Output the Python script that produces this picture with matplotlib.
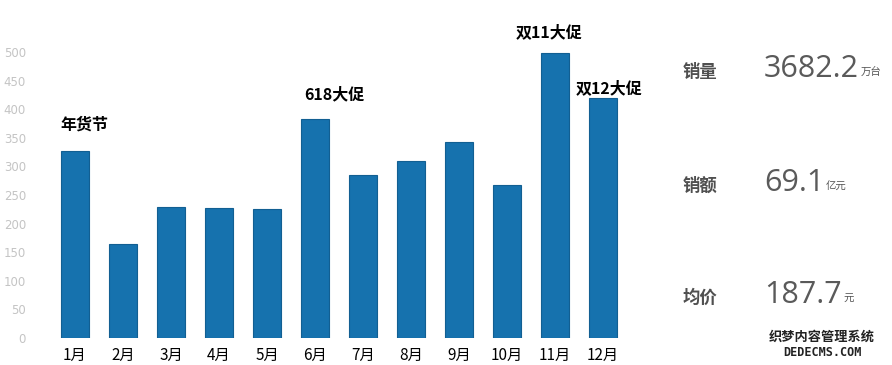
import matplotlib.pyplot as plt
import numpy as np

plt.rcParams['font.family'] = ['Noto Sans CJK SC', 'DejaVu Sans']

# monthly sales (万台)
months = ['1月', '2月', '3月', '4月', '5月', '6月',
          '7月', '8月', '9月', '10月', '11月', '12月']
sales = [327, 164, 229, 227, 225, 383, 285, 309, 343, 267, 498, 420]

# promo labels: (month index, text)
promo_idx = [0, 5, 10, 11]
promo_txt = ['年货节', '618大促', '双11大促', '双12大促']

# summary panel
sum_names = ['销量', '销额', '均价']
sum_vals = ['3682.2', '69.1', '187.7']
sum_units = ['万台', '亿元', '元']

yticks = np.arange(0, 501, 50)

W, H = 892, 365


def px(x, y):
    return x / W, 1 - y / H


fig = plt.figure(figsize=(W / 100, H / 100), dpi=100)
ax = fig.add_axes([51 / W, 27 / H, 576 / W, 286 / H])

x = np.arange(len(months))
ax.bar(x, sales, width=0.58, color='#1672ae', edgecolor='#125f92',
       linewidth=0.8)
ax.set_xlim(-0.5, 11.5)
ax.set_ylim(0, 500)
ax.set_yticks(yticks)
ax.set_yticklabels([str(v) for v in yticks], color='#c4c4c4', fontsize=8.5,
                   family=['DejaVu Sans'])
ax.set_xticks(x)
ax.set_xticklabels(months, fontsize=11)
ax.tick_params(axis='both', length=0)
ax.tick_params(axis='y', pad=18)
ax.tick_params(axis='x', pad=6.5)
for s in ax.spines.values():
    s.set_visible(False)

# promo annotations above bars
offsets = {0: (6.5, 13.5), 5: (14, 12), 10: (-4.5, 9.5), 11: (4.5, 1)}
for i, t in zip(promo_idx, promo_txt):
    dx, dy = offsets[i]
    ax.annotate(t, (i, sales[i]), xytext=(dx, dy), textcoords='offset points',
                ha='center', va='bottom', fontsize=11.5, fontweight='bold',
                annotation_clip=False)

# summary panel on the right
rows_y = [72, 186, 298]
for name, val, unit, yy in zip(sum_names, sum_vals, sum_units, rows_y):
    fig.text(*px(683, yy), name, fontsize=12.5, color='#505050', weight='bold',
             ha='left', va='center')
    vt = fig.text(*px(764, yy - 3), val, fontsize=22, color='#5a5a5a',
                  ha='left', va='center', family=['Open Sans', 'DejaVu Sans'])
    ax.annotate(unit, xy=(1, 0.22), xycoords=vt, xytext=(1, 0),
                textcoords='offset points', fontsize=7.5, color='#555555',
                ha='left', va='bottom')

# watermark
fig.text(*px(822, 337), '织梦内容管理系统', fontsize=9.5, color='#222222',
         weight='bold', ha='center', va='center')
fig.text(*px(822, 352), 'DEDECMS.COM', fontsize=8.5, color='#222222',
         weight='bold', ha='center', va='center', family=['DejaVu Sans Mono'])

fig.savefig('out.png', dpi=100)
